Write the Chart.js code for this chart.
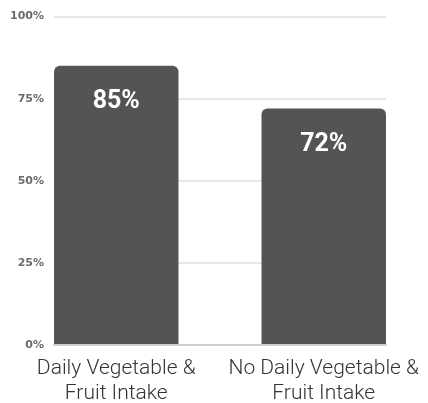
<!DOCTYPE html>
<html>
<head>
<meta charset="utf-8">
<script src="https://cdn.jsdelivr.net/npm/chart.js@4"></script>
<style>
    html, body { margin: 0; padding: 0; background: #fff; }
    #wrap { width: 428px; height: 403px; position: relative; }
</style>
</head>
<body>
<div id="wrap"><canvas id="chart"></canvas></div>
<script>
// data
const categories = [['Daily Vegetable &', 'Fruit Intake'], ['No Daily Vegetable &', 'Fruit Intake']];
const intakeValues = [85, 72];
const yTicks = [0, 25, 50, 75, 100];

// labels inside the bars
const barLabels = {
    id: 'barLabels',
    afterDatasetsDraw(chart) {
        const ctx = chart.ctx;
        const meta = chart.getDatasetMeta(0);
        ctx.save();
        ctx.fillStyle = '#ffffff';
        ctx.font = 'bold 25px Roboto';
        ctx.textAlign = 'center';
        ctx.textBaseline = 'middle';
        meta.data.forEach((bar, i) => {
            ctx.fillText(intakeValues[i] + '%', bar.x, bar.y + 36);
        });
        ctx.restore();
    }
};

new Chart(document.getElementById('chart'), {
    type: 'bar',
    data: {
        datasets: [{
            data: intakeValues.map((v, i) => ({ x: i, y: v })),
            backgroundColor: '#545454',
            borderRadius: 6,
            borderSkipped: 'bottom',
            barPercentage: 0.6,
            categoryPercentage: 1
        }]
    },
    options: {
        responsive: true,
        maintainAspectRatio: false,
        animation: false,
        layout: { padding: { top: 14, left: 0, right: 42, bottom: -14 } },
        plugins: { legend: { display: false }, tooltip: { enabled: false } },
        scales: {
            x: {
                type: 'linear',
                min: -0.3,
                max: 1.3,
                offset: false,
                grid: { display: false, offset: false, drawTicks: false },
                border: { display: true, color: '#cfcfcf', width: 2 },
                afterBuildTicks: axis => { axis.ticks = categories.map((c, i) => ({ value: i })); },
                // labels may hang past the plot edges, like the original
                afterFit: axis => { axis.paddingLeft = 0; axis.paddingRight = 0; },
                ticks: {
                    autoSkip: false,
                    maxRotation: 0,
                    padding: 11,
                    color: '#333333',
                    font: { family: 'Roboto', size: 21, weight: '300', lineHeight: 1.19 },
                    callback: (v) => categories[v]
                }
            },
            y: {
                min: 0,
                max: 100,
                afterBuildTicks: axis => { axis.ticks = yTicks.map(v => ({ value: v })); },
                grid: { color: '#e6e6e6', lineWidth: 2, drawTicks: false },
                border: { display: false },
                ticks: {
                    padding: 10,
                    color: '#6a6a6a',
                    font: { family: 'DejaVu Sans', size: 11, weight: 'bold' },
                    callback: v => v + '%'
                }
            }
        }
    },
    plugins: [barLabels]
});
</script>
</body>
</html>
